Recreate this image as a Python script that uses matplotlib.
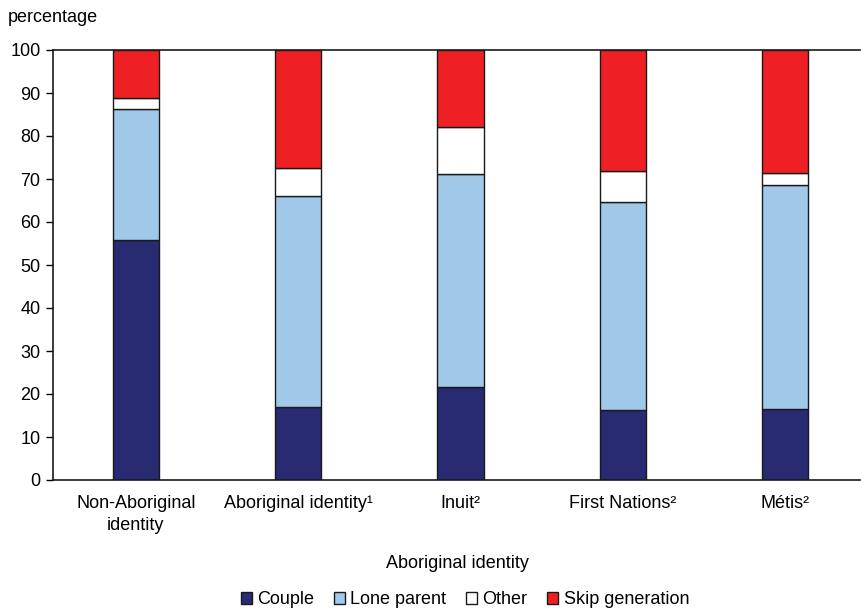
import matplotlib
matplotlib.use("Agg")
import matplotlib.pyplot as plt
from matplotlib import font_manager
from matplotlib.patches import Patch

names = {f.name for f in font_manager.fontManager.ttflist}
fam = ['Liberation Sans Narrow'] if 'Liberation Sans Narrow' in names else ['Liberation Sans']
plt.rcParams['font.family'] = fam + ['DejaVu Sans']

categories = ["Non-Aboriginal\nidentity", "Aboriginal identity¹", "Inuit²", "First Nations²", "Métis²"]
series_names = ["Couple", "Lone parent", "Other", "Skip generation"]
couple = [55.8, 17.0, 21.7, 16.3, 16.6]
lone_parent = [30.5, 49.1, 49.5, 48.4, 51.9]
other = [2.5, 6.5, 10.8, 7.2, 3.0]
skip_generation = [11.2, 27.4, 18.0, 28.1, 28.5]
colors = ["#282a72", "#a0c8e8", "#ffffff", "#ee2024"]
yticks = [0, 10, 20, 30, 40, 50, 60, 70, 80, 90, 100]

FS = 13

fig = plt.figure(figsize=(8.61, 6.12), dpi=100)
ax = fig.add_axes([53/861, 1-480/612, (860-53)/861, 430/612])

x = list(range(len(categories)))
bottom = [0]*len(categories)
for name, vals, c in zip(series_names, [couple, lone_parent, other, skip_generation], colors):
    ax.bar(x, vals, width=0.285, bottom=bottom, color=c, edgecolor="#1a1a1a", linewidth=1.0, label=name)
    bottom = [b + v for b, v in zip(bottom, vals)]

ax.set_xlim(-0.51, 4.46)
ax.set_ylim(0, 100)
ax.set_yticks(yticks)
ax.tick_params(axis='y', direction='out', length=5, width=1, labelsize=FS, pad=4)
ax.tick_params(axis='x', length=0, labelsize=FS, pad=11)
ax.set_xticks(x)
ax.set_xticklabels(categories, linespacing=1.35)
for s in ['left', 'bottom', 'top', 'right']:
    ax.spines[s].set_linewidth(1.2)
    ax.spines[s].set_color("#1a1a1a")
ax.spines['right'].set_visible(False)

fig.text(8/861, 1-18/612, "percentage", fontsize=FS, va='center', ha='left')
fig.text(457/861, 1-563/612, "Aboriginal identity", fontsize=FS, va='center', ha='center')

handles = [Patch(facecolor=c, edgecolor="#1a1a1a", linewidth=1.0) for c in colors]
fig.legend(handles, series_names, loc='center', bbox_to_anchor=(465/861, 1-600/612), ncol=4,
           frameon=False, fontsize=FS, handlelength=0.6, handleheight=0.6, handletextpad=0.3,
           columnspacing=1.1, borderpad=0)

fig.savefig("out.png", dpi=100)
